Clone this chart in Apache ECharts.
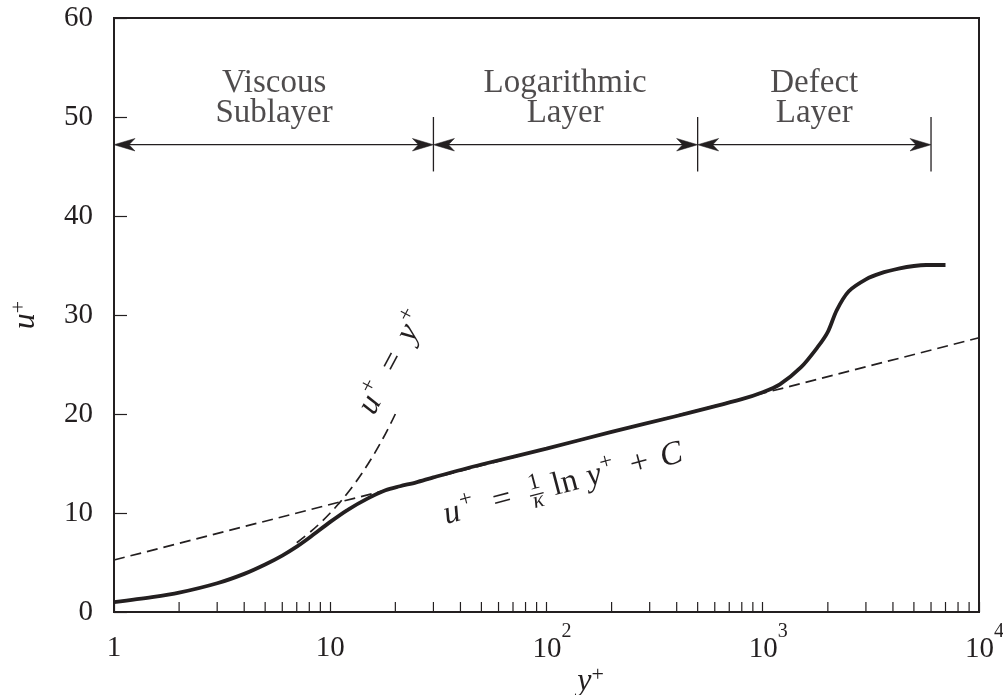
<!DOCTYPE html>
<html><head><meta charset="utf-8">
<script src="https://cdn.jsdelivr.net/npm/echarts@6/dist/echarts.min.js"></script>
<style>html,body{margin:0;padding:0;background:#fff}#c{width:1003px;height:695px}</style>
</head><body><div id="c"></div>
<script>
// ---- data ----
const yPlus = [1, 1.5, 2, 3, 4, 5, 6, 7, 8, 10, 12, 15, 18, 21, 25, 30, 50, 100, 200, 400, 800, 1000, 1200, 1500, 1800, 2000, 2200, 2500, 3000, 3500, 4300, 5000, 5700, 7000];
const uPlus = [1.0, 1.5, 1.95, 2.9, 3.85, 4.8, 5.7, 6.6, 7.5, 9.1, 10.3, 11.5, 12.3, 12.7, 13.1, 13.6, 14.9, 16.5, 18.2, 19.8, 21.5, 22.2, 23.0, 24.7, 26.8, 28.3, 30.5, 32.4, 33.6, 34.2, 34.7, 34.95, 35.05, 35.05];
const logLawY = [1, 10000];
const logLawU = [5.25, 27.7];
const linearY = [7, 8, 9, 10, 11, 12, 13, 14, 15, 16, 17, 18, 19, 20];
const linearU = [7, 8, 9, 10, 11, 12, 13, 14, 15, 16, 17, 18, 19, 20];
const regionBounds = [1, 30, 500, 6000];
const arrowLevel = 47.2;
const separatorRange = [44.5, 50];
const regionNames = ['Viscous\nSublayer', 'Logarithmic\nLayer', 'Defect\nLayer'];
const regionLabelX = [5.5, 122, 1730];
const regionLabelU = 51.9;
const xMinorTicks = [2,3,4,5,6,7,8,9,20,30,40,50,60,70,80,90,200,300,400,500,600,700,800,900,2000,3000,4000,5000,6000,7000,8000,9000];
const yTickValues = [0, 10, 20, 30, 40, 50, 60];

// ---- styling ----
const INK = '#231f20';
const SERIF = '"Liberation Serif", "DejaVu Serif", serif';

const zip = (a, b) => a.map((v, i) => [v, b[i]]);
const segs = regionBounds.slice(0, -1).map((v, i) => [v, regionBounds[i + 1], arrowLevel]);
const seps = regionBounds.slice(1).map(v => [v, separatorRange[0], separatorRange[1]]);

function head(tip, dir) {
  const L = 21, W = 12.5, N = 6;
  return {type: 'polygon', shape: {points: [
    [tip[0], tip[1]], [tip[0] + dir * L, tip[1] - W / 2],
    [tip[0] + dir * (L - N), tip[1]], [tip[0] + dir * L, tip[1] + W / 2]
  ]}, style: {fill: INK, stroke: INK, lineWidth: 0.5}};
}

function piece(text, x, y, size, italic) {
  return {type: 'text', x: x, y: y, style: {
    text: text, fill: INK, align: 'center', verticalAlign: 'middle',
    font: (italic ? 'italic ' : '') + size + 'px ' + SERIF
  }};
}

// annotation layouts in local (rotated) frame, origin at baseline under "="
const annotations = [
  {at: [64.3, 10.2], angle: 14.8, parts: [
    ['u', -52, -11.2, 33, true], ['+', -35, -21, 23, false], ['=', 0, -11.2, 33, false],
    ['1', 35, -20, 23, false], ['\u03BA', 35, -1, 23, true], ['ln', 65, -11.2, 33, false],
    ['y', 95, -11.2, 33, true], ['+', 110, -21, 23, false], ['+', 142, -11.2, 33, false],
    ['C', 175, -11.2, 33, true]
  ], bar: [28, 42, -8]},
  {at: [21.6, 24.7], angle: 62, parts: [
    ['u', -48, -11.2, 33, true], ['+', -32, -21, 23, false], ['=', 0, -11.2, 33, false],
    ['y', 33, -11.2, 33, true], ['+', 49, -21, 23, false]
  ]}
];

const chart = echarts.init(document.getElementById('c'), null, {renderer: 'canvas'});
chart.setOption({
  backgroundColor: '#fff',
  animation: false,
  grid: {left: 114, right: 24, top: 18, bottom: 83, outerBoundsMode: 'none', containLabel: false,
         show: true, borderColor: INK, borderWidth: 2, backgroundColor: 'transparent'},
  xAxis: {
    type: 'log', logBase: 10, min: 1, max: 10000,
    name: '{i|y}{s|+}', nameLocation: 'middle', nameGap: 42, nameMoveOverlap: false,
    nameTextStyle: {padding: [0, 0, 0, 88], rich: {
      i: {fontFamily: SERIF, fontStyle: 'italic', fontSize: 32, color: INK, verticalAlign: 'bottom', padding: [12, 0, 0, 0]},
      s: {fontFamily: SERIF, fontSize: 22, color: INK, verticalAlign: 'bottom', padding: [0, 0, 12, 0]}
    }},
    axisLine: {lineStyle: {color: INK, width: 2}},
    axisTick: {inside: true, length: 10, lineStyle: {color: INK, width: 1.2}},
    minorTick: {show: false},
    splitLine: {show: false},
    axisLabel: {
      margin: 10, showMinLabel: true, showMaxLabel: true,
      formatter: function (v) {
        const e = Math.round(Math.log10(v));
        if (e <= 1) return '{n|' + Math.round(v) + '}';
        return '{m|10}{s|' + e + '}';
      },
      rich: {
        n: {fontFamily: SERIF, fontSize: 29, color: INK, verticalAlign: 'bottom', padding: [12, 0, 0, 0]},
        m: {fontFamily: SERIF, fontSize: 29, color: INK, verticalAlign: 'bottom', padding: [12, 0, 0, 11]},
        s: {fontFamily: SERIF, fontSize: 20, color: INK, verticalAlign: 'bottom', padding: [0, 0, 22, 0]}
      }
    }
  },
  yAxis: {
    type: 'value', min: 0, max: 60, interval: 10,
    name: '{i|u}{s|+}', nameLocation: 'middle', nameRotate: 90, nameGap: 72, nameMoveOverlap: false,
    nameTextStyle: {rich: {
      i: {fontFamily: SERIF, fontStyle: 'italic', fontSize: 32, color: INK, verticalAlign: 'bottom', padding: [12, 0, 0, 0]},
      s: {fontFamily: SERIF, fontSize: 22, color: INK, verticalAlign: 'bottom', padding: [0, 0, 12, 0]}
    }},
    axisLine: {show: true, lineStyle: {color: INK, width: 2}},
    axisTick: {inside: true, length: 13, lineStyle: {color: INK, width: 1.2}},
    splitLine: {show: false},
    axisLabel: {margin: 21, fontFamily: SERIF, fontSize: 29, color: INK}
  },
  series: [
    {type: 'line', name: 'log law', data: zip(logLawY, logLawU), showSymbol: false, z: 2,
     lineStyle: {color: INK, width: 1.7, type: [11, 6]}},
    {type: 'line', name: 'linear', data: zip(linearY, linearU), showSymbol: false, smooth: true, z: 2,
     lineStyle: {color: INK, width: 1.7, type: [11, 6]}},
    {type: 'line', name: 'profile', data: zip(yPlus, uPlus), showSymbol: false, smooth: 0.3, z: 3,
     lineStyle: {color: INK, width: 3.8}},
    {type: 'custom', name: 'minor ticks', data: xMinorTicks.map(v => [v, 0]), clip: false, z: 4,
     renderItem: function (params, api) {
       const p = api.coord([api.value(0), api.value(1)]);
       return {type: 'line', shape: {x1: p[0], y1: p[1], x2: p[0], y2: p[1] - 10}, style: {stroke: INK, lineWidth: 1.2}};
     }},
    {type: 'custom', name: 'arrows', data: segs, encode: {x: [0, 1], y: 2}, clip: false, z: 4,
     renderItem: function (params, api) {
       const a = api.coord([api.value(0), api.value(2)]);
       const b = api.coord([api.value(1), api.value(2)]);
       return {type: 'group', children: [
         {type: 'line', shape: {x1: a[0] + 5, y1: a[1], x2: b[0] - 5, y2: b[1]}, style: {stroke: INK, lineWidth: 1.3}},
         head(a, 1), head(b, -1)
       ]};
     }},
    {type: 'custom', name: 'separators', data: seps, encode: {x: 0, y: [1, 2]}, clip: false, z: 4,
     renderItem: function (params, api) {
       const a = api.coord([api.value(0), api.value(1)]);
       const b = api.coord([api.value(0), api.value(2)]);
       return {type: 'line', shape: {x1: a[0], y1: a[1], x2: b[0], y2: b[1]}, style: {stroke: INK, lineWidth: 1.3}};
     }},
    {type: 'scatter', name: 'regions', data: regionLabelX.map(x => [x, regionLabelU]), symbolSize: 0, z: 5,
     label: {show: true, position: 'inside', formatter: p => regionNames[p.dataIndex],
       fontFamily: SERIF, fontSize: 33, lineHeight: 30, color: INK, align: 'center'}},
    {type: 'custom', name: 'formulas', data: annotations.map(a => a.at), clip: false, z: 6,
     renderItem: function (params, api) {
       const ann = annotations[params.dataIndex];
       const p = api.coord([api.value(0), api.value(1)]);
       const children = ann.parts.map(q => piece(q[0], q[1], q[2], q[3], q[4]));
       if (ann.bar) children.push({type: 'line', shape: {x1: ann.bar[0], y1: ann.bar[2], x2: ann.bar[1], y2: ann.bar[2]}, style: {stroke: INK, lineWidth: 1.2}});
       return {type: 'group', x: p[0], y: p[1], rotation: ann.angle * Math.PI / 180, children: children};
     }}
  ]
});
</script></body></html>
